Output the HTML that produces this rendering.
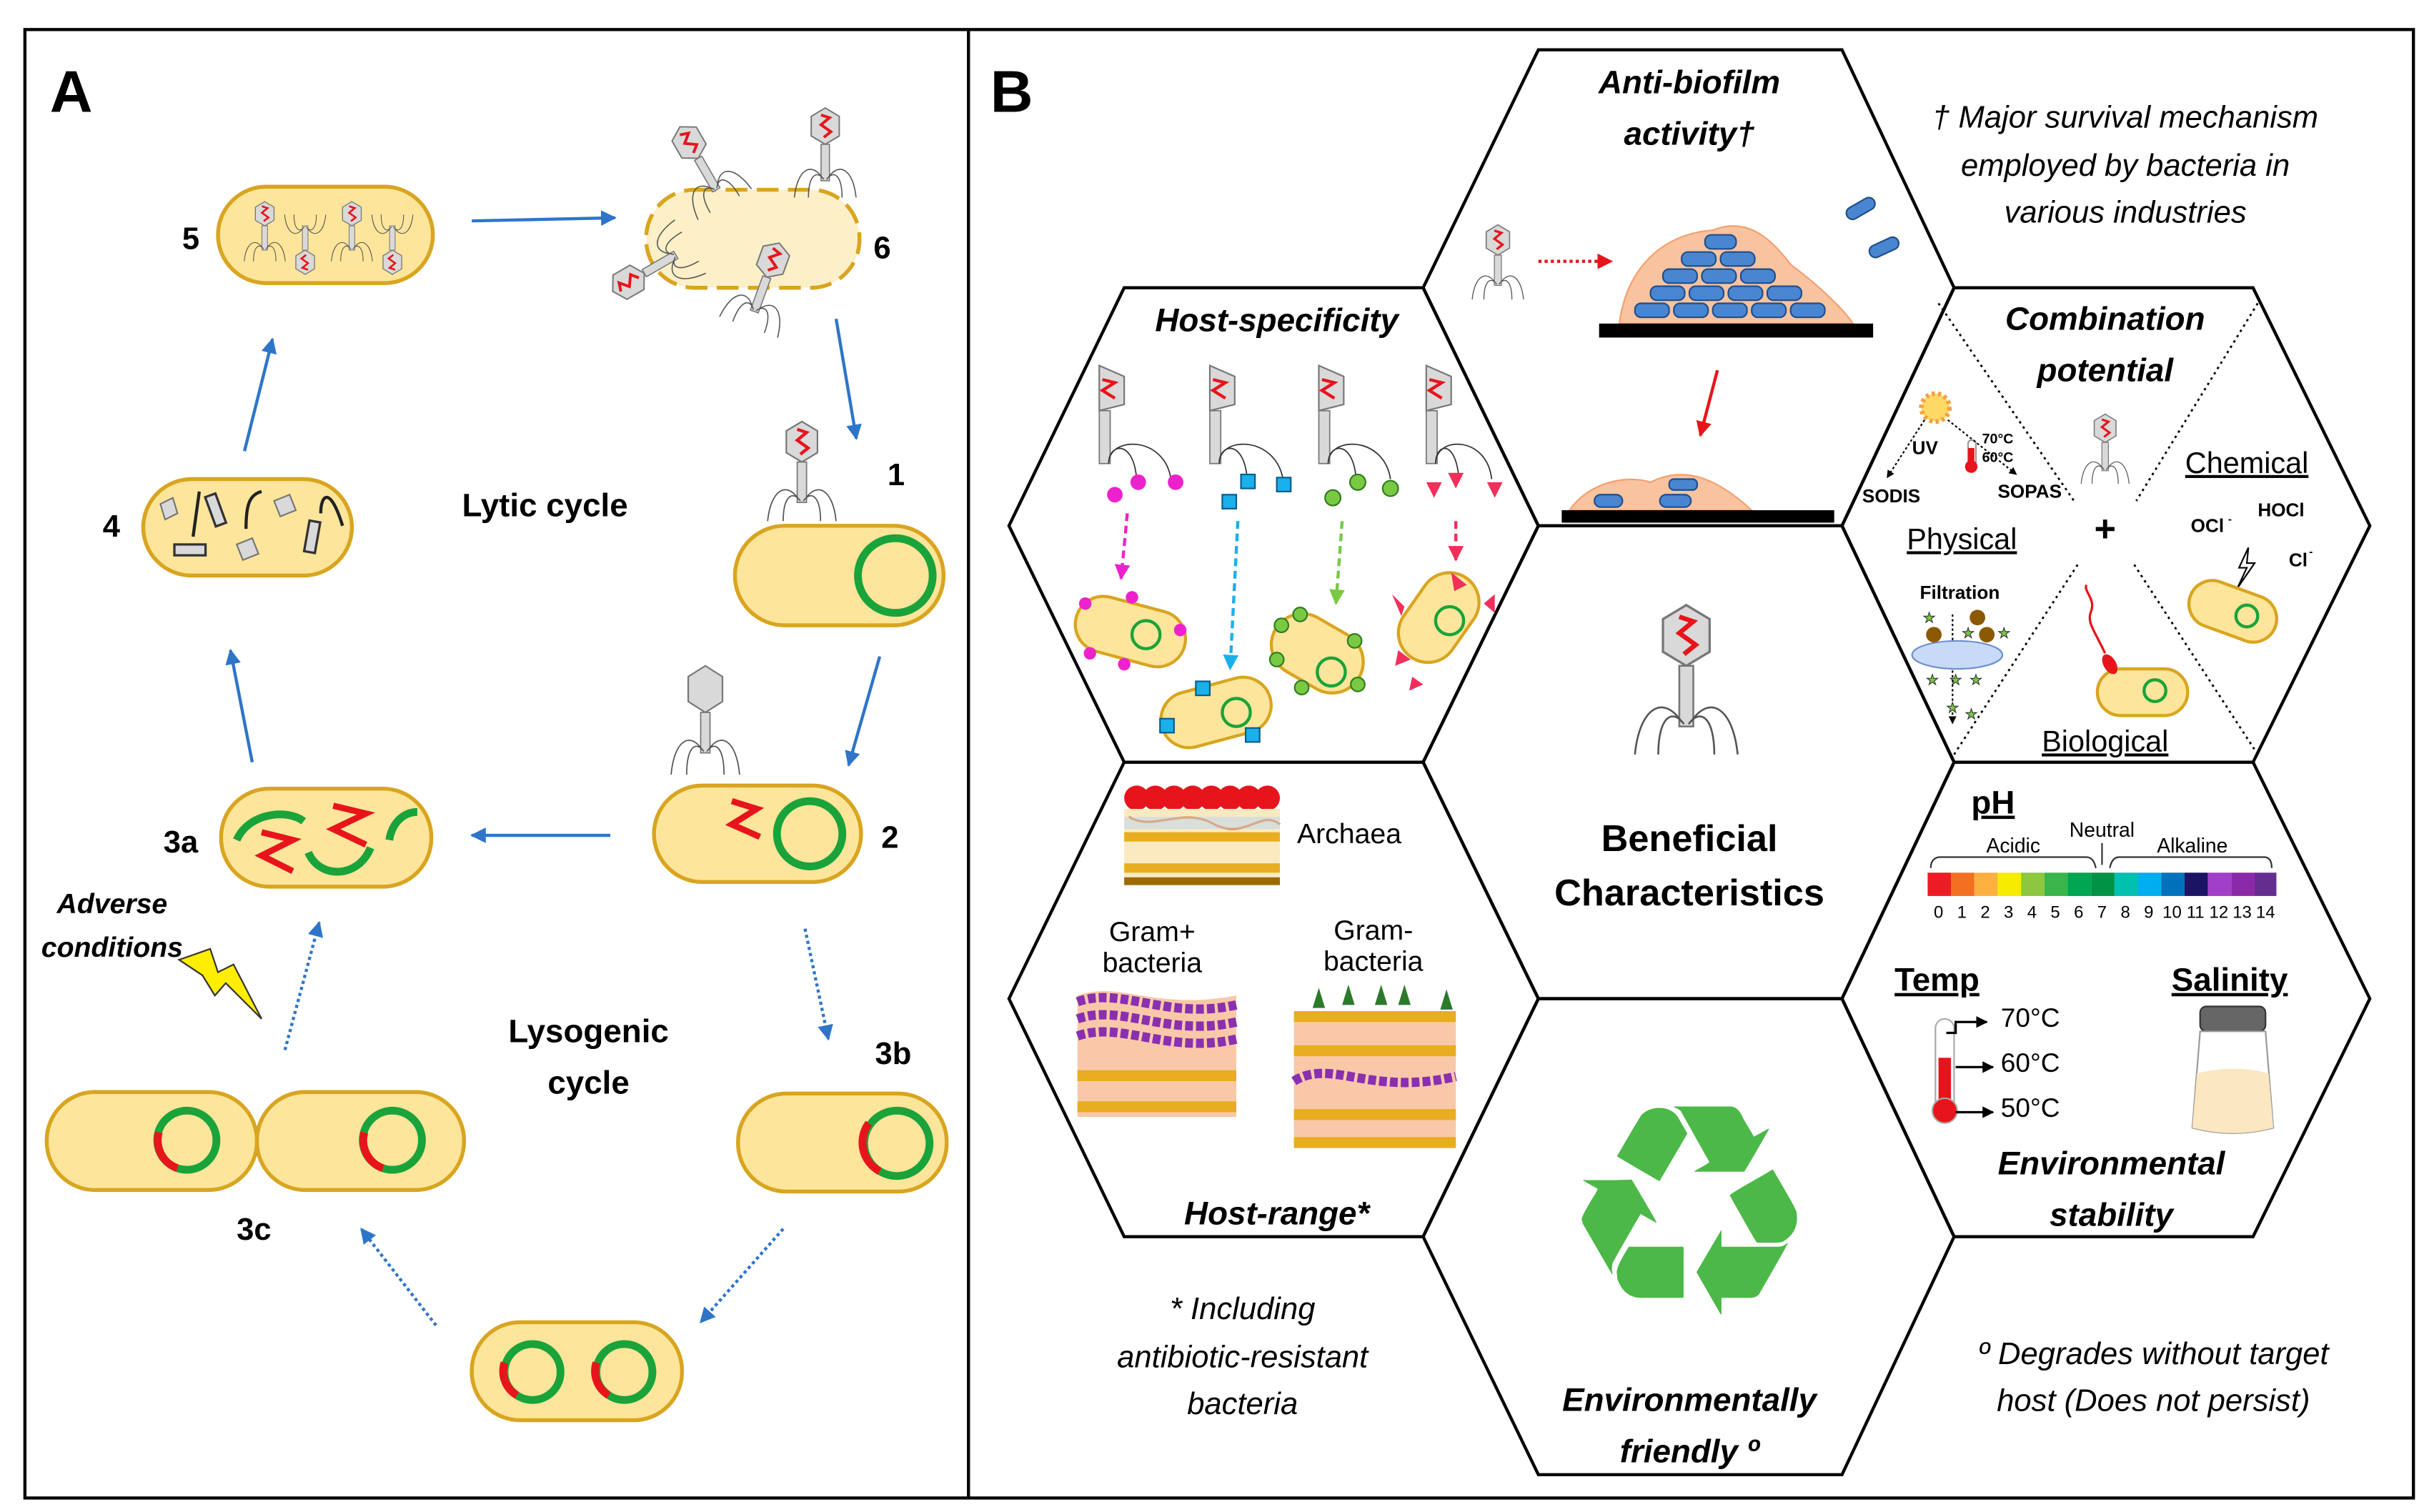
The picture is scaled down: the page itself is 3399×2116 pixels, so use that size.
<!DOCTYPE html>
<html><head><meta charset="utf-8"><style>
html,body{margin:0;padding:0;background:#fff}
svg{display:block}
text{font-family:"Liberation Sans",sans-serif}
.b{font-weight:bold}
.bi{font-weight:bold;font-style:italic}
.i{font-style:italic}
</style></head><body>
<svg width="3399" height="2116" viewBox="0 0 1560 972" preserveAspectRatio="none" xmlns="http://www.w3.org/2000/svg" xmlns:xlink="http://www.w3.org/1999/xlink">
<defs>
<marker id="ab" viewBox="0 0 10 10" refX="9" refY="5" markerWidth="5" markerHeight="5" orient="auto"><path d="M0,0L10,5L0,10z" fill="#2e75c8"/></marker>
<marker id="ar" viewBox="0 0 10 10" refX="9" refY="5" markerWidth="5" markerHeight="5" orient="auto"><path d="M0,0L10,5L0,10z" fill="#e8141b"/></marker>
<marker id="am" viewBox="0 0 10 10" refX="9" refY="5" markerWidth="5" markerHeight="5" orient="auto"><path d="M0,0L10,5L0,10z" fill="#ee22cc"/></marker>
<marker id="ac" viewBox="0 0 10 10" refX="9" refY="5" markerWidth="5" markerHeight="5" orient="auto"><path d="M0,0L10,5L0,10z" fill="#19b0ec"/></marker>
<marker id="ag" viewBox="0 0 10 10" refX="9" refY="5" markerWidth="5" markerHeight="5" orient="auto"><path d="M0,0L10,5L0,10z" fill="#7ac943"/></marker>
<marker id="ap" viewBox="0 0 10 10" refX="9" refY="5" markerWidth="5" markerHeight="5" orient="auto"><path d="M0,0L10,5L0,10z" fill="#f0305a"/></marker>
<marker id="ak" viewBox="0 0 10 10" refX="9" refY="5" markerWidth="5" markerHeight="5" orient="auto"><path d="M0,0L10,5L0,10z" fill="#000"/></marker>
<g id="ph">
<path d="M0,-34 L10,-28 L10,-14 L0,-8 L-10,-14 L-10,-28Z" fill="#d9d9d9" stroke="#777" stroke-width="1"/>
<path d="M-3,-29 L3,-27 L-3,-22 L4,-17 L-1,-13" fill="none" stroke="#e8141b" stroke-width="2"/>
<rect x="-3" y="-8" width="6" height="26" fill="#d9d9d9" stroke="#777" stroke-width="0.8"/>
<path d="M-2,16 C-10,4 -20,10 -22,30 M2,16 C10,4 20,10 22,30 M-1,17 C-6,10 -12,14 -12,30 M1,17 C6,10 12,14 12,30" fill="none" stroke="#555" stroke-width="0.8"/>
</g>
</defs>

<!-- frame -->
<rect x="16" y="19" width="1534" height="944" fill="#fff" stroke="#000" stroke-width="2"/>
<line x1="622" y1="19" x2="622" y2="963" stroke="#000" stroke-width="2"/>

<!-- PANEL A -->
<text x="32" y="72" class="b" font-size="38">A</text>
<g fill="#fde59b" stroke="#d9a520" stroke-width="2.5">
<rect x="140" y="120" width="138" height="62" rx="31"/>
<rect x="92" y="308" width="134" height="62" rx="31"/>
<rect x="472" y="338" width="134" height="64" rx="32"/>
<rect x="420" y="505" width="133" height="62" rx="31"/>
<rect x="142" y="507" width="135" height="63" rx="31"/>
<rect x="474" y="703" width="134" height="63" rx="31"/>
<rect x="303" y="850" width="135" height="63" rx="31"/>
<rect x="30" y="702" width="135" height="63" rx="31"/>
<rect x="165" y="702" width="133" height="63" rx="31"/>
</g>
<rect x="415" y="122" width="137" height="63" rx="31" fill="#fdf0c8" stroke="#d9a520" stroke-width="2.5" stroke-dasharray="14,6"/>
<!-- green rings -->
<g fill="none" stroke="#1aa33a" stroke-width="5">
<circle cx="575" cy="370" r="24"/>
<circle cx="520" cy="536" r="21"/>
<circle cx="576" cy="735" r="21"/>
<circle cx="342" cy="882" r="18"/>
<circle cx="401" cy="882" r="18"/>
<circle cx="120" cy="733" r="19"/>
<circle cx="252" cy="733" r="19"/>
</g>
<g fill="none" stroke="#e8141b" stroke-width="5">
<path d="M558,722 A21,21 0 0 0 565,753"/>
<path d="M324,876 A18,18 0 0 0 332,897"/>
<path d="M383,876 A18,18 0 0 0 391,897"/>
<path d="M102,728 A19,19 0 0 0 114,751"/>
<path d="M234,728 A19,19 0 0 0 246,751"/>
<path d="M470,515 L486,520 L470,530 L488,538" stroke-width="4"/>
<path d="M168,535 L188,540 L168,550 L188,560" stroke-width="4"/>
<path d="M214,518 L235,523 L214,533 L235,543" stroke-width="4"/>
</g>
<g fill="none" stroke="#1aa33a" stroke-width="5">
<path d="M152,540 C160,522 185,520 195,528"/>
<path d="M198,548 C205,565 230,565 238,545"/>
<path d="M250,540 C252,528 260,522 268,522"/>
</g>
<!-- cell 5 contents -->
<g transform="translate(170,150) scale(0.6)"><use xlink:href="#ph"/></g>
<g transform="translate(226,150) scale(0.6)"><use xlink:href="#ph"/></g>
<g transform="translate(196,156) scale(0.6) rotate(180)"><use xlink:href="#ph"/></g>
<g transform="translate(252,156) scale(0.6) rotate(180)"><use xlink:href="#ph"/></g>
<!-- cell 4 contents -->
<g fill="#d9d9d9" stroke="#333" stroke-width="1.5">
<rect x="135" y="318" width="7" height="20" transform="rotate(-20 138 328)"/>
<rect x="197" y="335" width="7" height="20" transform="rotate(10 200 345)"/>
<rect x="112" y="350" width="20" height="7"/>
</g>
<path d="M124,345 L128,316 M158,340 C158,325 160,318 168,316 M206,330 C206,318 212,312 220,338" stroke="#222" stroke-width="2" fill="none"/>
<path d="M103,324 L111,320 L114,330 L106,334Z M176,322 L186,318 L190,328 L180,332Z M152,350 L162,346 L166,356 L156,360Z" fill="#d9d9d9" stroke="#777"/>
<!-- phages around 6 -->
<g transform="translate(530,100) scale(0.9)"><use xlink:href="#ph"/></g>
<g transform="translate(452,108) scale(0.9) rotate(-30)"><use xlink:href="#ph"/></g>
<g transform="translate(420,172) scale(0.9) rotate(-120)"><use xlink:href="#ph"/></g>
<g transform="translate(490,185) scale(0.9) rotate(20)"><use xlink:href="#ph"/></g>
<!-- phage at 1 and 2 -->
<g transform="translate(515,305)"><use xlink:href="#ph"/></g>
<g transform="translate(453,466)"><path d="M0,-38 L11,-31 L11,-15 L0,-8 L-11,-15 L-11,-31Z" fill="#d9d9d9" stroke="#777"/><rect x="-3" y="-8" width="6" height="26" fill="#d9d9d9" stroke="#777" stroke-width="0.8"/><path d="M-2,16 C-10,4 -20,10 -22,32 M2,16 C10,4 20,10 22,32 M-1,17 C-6,10 -12,14 -12,32 M1,17 C6,10 12,14 12,32" fill="none" stroke="#555" stroke-width="0.8"/></g>
<!-- labels -->
<g class="b" font-size="20">
<text x="117" y="160">5</text><text x="561" y="166">6</text><text x="570" y="312">1</text>
<text x="66" y="345">4</text><text x="566" y="545">2</text><text x="105" y="548">3a</text>
<text x="562" y="684">3b</text><text x="152" y="797">3c</text>
</g>
<text x="350" y="332" class="b" font-size="21" text-anchor="middle">Lytic cycle</text>
<text x="378" y="670" class="b" font-size="21" text-anchor="middle">Lysogenic</text>
<text x="378" y="703" class="b" font-size="21" text-anchor="middle">cycle</text>
<text x="72" y="587" class="bi" font-size="18" text-anchor="middle">Adverse</text>
<text x="72" y="615" class="bi" font-size="18" text-anchor="middle">conditions</text>
<path d="M115,617 L135,610 L140,625 L150,620 L168,655 L145,632 L138,640 L130,627Z" fill="#ffee00" stroke="#333" stroke-width="1"/>
<!-- blue arrows -->
<g stroke="#2e75c8" stroke-width="2" fill="none" marker-end="url(#ab)">
<line x1="303" y1="142" x2="395" y2="140"/>
<line x1="537" y1="205" x2="550" y2="282"/>
<line x1="565" y1="422" x2="545" y2="492"/>
<line x1="392" y1="537" x2="303" y2="537"/>
<line x1="162" y1="490" x2="148" y2="418"/>
<line x1="157" y1="290" x2="175" y2="218"/>
</g>
<g stroke="#2e75c8" stroke-width="2" fill="none" stroke-dasharray="2,2" marker-end="url(#ab)">
<line x1="517" y1="597" x2="532" y2="668"/>
<line x1="503" y1="790" x2="450" y2="850"/>
<line x1="280" y1="852" x2="232" y2="790"/>
<line x1="183" y1="675" x2="205" y2="593"/>
</g>

<!-- PANEL B -->
<text x="636" y="72" class="b" font-size="38">B</text>
<g fill="none" stroke="#000" stroke-width="2">
<path d="M988,32 L1183,32 L1255,185 L1183,338 L988,338 L914,185Z"/>
<path d="M988,338 L1183,338 L1255,490 L1183,642 L988,642 L914,490Z"/>
<path d="M988,642 L1183,642 L1255,795 L1183,948 L988,948 L914,795Z"/>
<path d="M722,185 L914,185 L988,338 L914,490 L722,490 L648,338Z"/>
<path d="M722,490 L914,490 L988,642 L914,795 L722,795 L648,642Z"/>
<path d="M1255,185 L1447,185 L1522,338 L1447,490 L1255,490 L1183,338Z"/>
<path d="M1255,490 L1447,490 L1522,642 L1447,795 L1255,795 L1183,642Z"/>
</g>
<!-- footnotes -->
<g class="i" font-size="20" text-anchor="middle">
<text x="1365" y="82">† Major survival mechanism</text>
<text x="1365" y="113">employed by bacteria in</text>
<text x="1365" y="143">various industries</text>
<text x="798" y="848">* Including</text>
<text x="798" y="879">antibiotic-resistant</text>
<text x="798" y="909">bacteria</text>
<text x="1383" y="877">º Degrades without target</text>
<text x="1383" y="907">host (Does not persist)</text>
</g>
<!-- titles -->
<g class="bi" font-size="21" text-anchor="middle">
<text x="1085" y="60">Anti-biofilm</text>
<text x="1085" y="93">activity†</text>
<text x="820" y="213">Host-specificity</text>
<text x="1352" y="212">Combination</text>
<text x="1352" y="245">potential</text>
<text x="820" y="787">Host-range*</text>
<text x="1085" y="907">Environmentally</text>
<text x="1085" y="940">friendly º</text>
<text x="1356" y="755">Environmental</text>
<text x="1356" y="788">stability</text>
</g>
<text x="1085" y="547" class="b" font-size="24" text-anchor="middle">Beneficial</text>
<text x="1085" y="582" class="b" font-size="24" text-anchor="middle">Characteristics</text>
<!-- central phage -->
<g transform="translate(1083,440) scale(1.5)"><use xlink:href="#ph"/></g>
<!-- biofilm -->
<path d="M1040,208 C1045,170 1070,150 1100,148 C1120,140 1135,150 1150,170 C1170,185 1185,200 1190,208Z" fill="#f9c3a0" stroke="#f4a070"/>
<g fill="#4a86d0" stroke="#1f4e8c" stroke-width="1">
<rect x="1050" y="195" width="22" height="9" rx="4"/><rect x="1075" y="195" width="22" height="9" rx="4"/><rect x="1100" y="195" width="22" height="9" rx="4"/><rect x="1125" y="195" width="22" height="9" rx="4"/><rect x="1150" y="195" width="22" height="9" rx="4"/>
<rect x="1060" y="184" width="22" height="9" rx="4"/><rect x="1085" y="184" width="22" height="9" rx="4"/><rect x="1110" y="184" width="22" height="9" rx="4"/><rect x="1135" y="184" width="22" height="9" rx="4"/>
<rect x="1068" y="173" width="22" height="9" rx="4"/><rect x="1093" y="173" width="22" height="9" rx="4"/><rect x="1118" y="173" width="22" height="9" rx="4"/>
<rect x="1080" y="162" width="22" height="9" rx="4"/><rect x="1105" y="162" width="22" height="9" rx="4"/>
<rect x="1095" y="151" width="20" height="9" rx="4"/>
<rect x="1185" y="130" width="20" height="8" rx="4" transform="rotate(-30 1195 134)"/>
<rect x="1200" y="155" width="20" height="8" rx="4" transform="rotate(-25 1210 159)"/>
<rect x="1060" y="318" width="18" height="8" rx="4"/><rect x="1080" y="316" width="20" height="8" rx="4"/><rect x="1070" y="310" width="18" height="7" rx="3"/>
</g>
<rect x="1027" y="208" width="176" height="9" fill="#000"/>
<path d="M1008,328 C1020,310 1045,305 1060,310 C1080,300 1100,305 1125,328Z" fill="#f9c3a0" stroke="#f4a070"/>
<g fill="#4a86d0" stroke="#1f4e8c" stroke-width="1"><rect x="1024" y="318" width="18" height="8" rx="4"/><rect x="1066" y="318" width="20" height="8" rx="4"/><rect x="1072" y="308" width="18" height="7" rx="3"/></g>
<rect x="1003" y="328" width="175" height="8" fill="#000"/>
<line x1="1103" y1="238" x2="1092" y2="280" stroke="#e8141b" stroke-width="2" marker-end="url(#ar)"/>
<line x1="988" y1="168" x2="1035" y2="168" stroke="#e8141b" stroke-width="2" stroke-dasharray="2,2" marker-end="url(#ar)"/>
<g transform="translate(962,170) scale(0.75)"><use xlink:href="#ph"/></g>
<!-- host specificity -->
<g transform="translate(712,270)"><path d="M-6,-35 L10,-28 L10,-10 L-6,-6Z" fill="#d9d9d9" stroke="#777"/><path d="M-4,-26 L4,-24 L-4,-19 L4,-14" stroke="#e8141b" stroke-width="2" fill="none"/><rect x="-6" y="-6" width="7" height="34" fill="#d9d9d9" stroke="#777" stroke-width="0.8"/></g>
<g transform="translate(783,270)"><path d="M-6,-35 L10,-28 L10,-10 L-6,-6Z" fill="#d9d9d9" stroke="#777"/><path d="M-4,-26 L4,-24 L-4,-19 L4,-14" stroke="#e8141b" stroke-width="2" fill="none"/><rect x="-6" y="-6" width="7" height="34" fill="#d9d9d9" stroke="#777" stroke-width="0.8"/></g>
<g transform="translate(853,270)"><path d="M-6,-35 L10,-28 L10,-10 L-6,-6Z" fill="#d9d9d9" stroke="#777"/><path d="M-4,-26 L4,-24 L-4,-19 L4,-14" stroke="#e8141b" stroke-width="2" fill="none"/><rect x="-6" y="-6" width="7" height="34" fill="#d9d9d9" stroke="#777" stroke-width="0.8"/></g>
<g transform="translate(922,270)"><path d="M-6,-35 L10,-28 L10,-10 L-6,-6Z" fill="#d9d9d9" stroke="#777"/><path d="M-4,-26 L4,-24 L-4,-19 L4,-14" stroke="#e8141b" stroke-width="2" fill="none"/><rect x="-6" y="-6" width="7" height="34" fill="#d9d9d9" stroke="#777" stroke-width="0.8"/></g>
<g fill="none" stroke="#333" stroke-width="0.8">
<path d="M712,298 C712,285 728,282 730,308 M712,298 C712,280 748,280 752,308"/>
<path d="M783,298 C783,285 799,282 801,308 M783,298 C783,280 819,280 824,308"/>
<path d="M853,298 C853,285 869,282 871,308 M853,298 C853,280 889,280 893,308"/>
<path d="M922,298 C922,285 935,282 937,308 M922,298 C922,280 955,280 958,308"/>
</g>
<g fill="#ee22cc"><circle cx="716" cy="318" r="5"/><circle cx="731" cy="310" r="5"/><circle cx="755" cy="310" r="5"/></g>
<g fill="#19b0ec" stroke="#0a5c8c"><rect x="785" y="318" width="9" height="9"/><rect x="797" y="305" width="9" height="9"/><rect x="820" y="307" width="9" height="9"/></g>
<g fill="#7ac943" stroke="#2e7d1e"><circle cx="856" cy="320" r="5"/><circle cx="872" cy="310" r="5"/><circle cx="893" cy="314" r="5"/></g>
<g fill="#f0305a"><path d="M916,310 L926,310 L921,320Z M930,304 L940,304 L935,314Z M955,310 L965,310 L960,320Z"/></g>
<line x1="724" y1="330" x2="720" y2="372" stroke="#ee22cc" stroke-width="2" stroke-dasharray="5,3" marker-end="url(#am)"/>
<line x1="795" y1="335" x2="790" y2="430" stroke="#19b0ec" stroke-width="2" stroke-dasharray="5,3" marker-end="url(#ac)"/>
<line x1="862" y1="335" x2="858" y2="388" stroke="#7ac943" stroke-width="2" stroke-dasharray="5,3" marker-end="url(#ag)"/>
<line x1="935" y1="335" x2="935" y2="360" stroke="#f0305a" stroke-width="2" stroke-dasharray="5,3" marker-end="url(#ap)"/>
<g fill="#fde59b" stroke="#d9a520" stroke-width="2">
<rect x="690" y="388" width="72" height="36" rx="18" transform="rotate(15 726 406)"/>
<rect x="745" y="440" width="72" height="36" rx="18" transform="rotate(-15 781 458)"/>
<rect x="815" y="400" width="62" height="40" rx="20" transform="rotate(30 846 420)"/>
<rect x="893" y="378" width="62" height="38" rx="19" transform="rotate(-55 924 397)"/>
</g>
<g fill="none" stroke="#1aa33a" stroke-width="2"><circle cx="736" cy="408" r="9"/><circle cx="794" cy="458" r="9"/><circle cx="855" cy="432" r="9"/><circle cx="931" cy="399" r="9"/></g>
<g fill="#ee22cc"><circle cx="697" cy="388" r="4"/><circle cx="727" cy="384" r="4"/><circle cx="758" cy="405" r="4"/><circle cx="700" cy="420" r="4"/><circle cx="722" cy="427" r="4"/></g>
<g fill="#19b0ec" stroke="#0a5c8c"><rect x="745" y="462" width="9" height="9"/><rect x="768" y="438" width="9" height="9"/><rect x="800" y="468" width="9" height="9"/></g>
<g fill="#7ac943" stroke="#2e7d1e"><circle cx="823" cy="402" r="4.5"/><circle cx="835" cy="395" r="4.5"/><circle cx="820" cy="424" r="4.5"/><circle cx="870" cy="412" r="4.5"/><circle cx="872" cy="440" r="4.5"/><circle cx="836" cy="442" r="4.5"/></g>
<g fill="#f0305a"><path d="M932,368 L942,376 L934,380Z M898,418 L906,424 L896,428Z M907,435 L914,440 L905,444Z M953,388 L960,382 L960,394Z M902,390 L894,382 L900,396Z"/></g>
<!-- combination -->
<g stroke="#000" stroke-width="1.3" stroke-dasharray="1.5,2.5" fill="none">
<line x1="1245" y1="195" x2="1332" y2="322"/>
<line x1="1450" y1="195" x2="1372" y2="322"/>
<line x1="1255" y1="485" x2="1335" y2="362"/>
<line x1="1450" y1="485" x2="1370" y2="362"/>
</g>
<text x="1352" y="348" class="b" font-size="24" text-anchor="middle">+</text>
<g transform="translate(1352,290) scale(0.7)"><use xlink:href="#ph"/></g>
<circle cx="1243" cy="262" r="9" fill="#ffd966" stroke="#f4a040" stroke-width="3" stroke-dasharray="2,2"/>
<rect x="1264" y="283" width="5" height="20" rx="2" fill="#fff" stroke="#999"/><circle cx="1266" cy="300" r="4" fill="#e8141b"/><rect x="1264" y="288" width="4" height="12" fill="#e8141b"/>
<g font-size="9" class="b"><text x="1273" y="285">70°C</text><text x="1273" y="297">60°C</text></g>
<g stroke="#000" stroke-width="1" stroke-dasharray="1.5,1.5"><line x1="1236" y1="270" x2="1212" y2="307" marker-end="url(#ak)"/><line x1="1251" y1="270" x2="1295" y2="305" marker-end="url(#ak)"/><line x1="1254" y1="395" x2="1254" y2="420" marker-end="url(#ak)"/><line x1="1254" y1="425" x2="1254" y2="465" marker-end="url(#ak)"/></g>
<g class="b" font-size="12"><text x="1228" y="292">UV</text><text x="1196" y="323">SODIS</text><text x="1283" y="320">SOPAS</text><text x="1233" y="385">Filtration</text><text x="1407" y="342">OCl</text><text x="1450" y="332">HOCl</text><text x="1470" y="364">Cl</text></g>
<g font-size="7" class="b"><text x="1431" y="336">-</text><text x="1483" y="357">-</text></g>
<g font-size="19" text-decoration="underline"><text x="1443" y="304" text-anchor="middle">Chemical</text><text x="1260" y="353" text-anchor="middle">Physical</text><text x="1352" y="483" text-anchor="middle">Biological</text></g>
<ellipse cx="1257" cy="421" rx="29" ry="9" fill="#c9daf8" stroke="#6d8fcf"/>
<g fill="#8b5a00"><circle cx="1270" cy="397" r="5"/><circle cx="1242" cy="408" r="5"/><circle cx="1276" cy="408" r="5"/></g>
<g fill="#7ac943" stroke="#333" stroke-width="0.5" font-size="9"><text x="1235" y="400">★</text><text x="1260" y="410">★</text><text x="1283" y="410">★</text><text x="1237" y="440">★</text><text x="1252" y="440">★</text><text x="1265" y="440">★</text><text x="1250" y="458">★</text><text x="1262" y="462">★</text></g>
<path d="M1444,352 L1438,365 L1443,365 L1437,378 L1448,362 L1443,362Z" fill="#fff" stroke="#000"/>
<rect x="1405" y="378" width="58" height="30" rx="15" fill="#fde59b" stroke="#d9a520" stroke-width="2" transform="rotate(20 1434 393)"/>
<circle cx="1443" cy="396" r="7" fill="none" stroke="#1aa33a" stroke-width="2"/>
<rect x="1347" y="430" width="58" height="30" rx="15" fill="#fde59b" stroke="#d9a520" stroke-width="2"/>
<circle cx="1384" cy="444" r="7" fill="none" stroke="#1aa33a" stroke-width="2"/>
<ellipse cx="1355" cy="427" rx="4" ry="7" fill="#e8141b" transform="rotate(-30 1355 427)"/>
<path d="M1352,420 C1345,405 1340,400 1343,393 C1346,385 1338,380 1340,376" fill="none" stroke="#e8141b" stroke-width="1.5"/>
<!-- host range -->
<g fill="#e8141b"><circle cx="730" cy="513" r="8"/><circle cx="742" cy="513" r="8"/><circle cx="754" cy="513" r="8"/><circle cx="766" cy="513" r="8"/><circle cx="778" cy="513" r="8"/><circle cx="790" cy="513" r="8"/><circle cx="802" cy="513" r="8"/><circle cx="814" cy="513" r="8"/></g>
<rect x="722" y="520" width="100" height="48" fill="#fbeac0"/>
<path d="M725,525 C740,535 760,518 780,530 C800,540 810,520 822,530" stroke="#f08030" fill="none" stroke-width="1.5"/>
<rect x="722" y="525" width="100" height="8" fill="#b8d4f0" opacity="0.5"/>
<g fill="#e8ad20"><rect x="722" y="535" width="100" height="6"/><rect x="722" y="555" width="100" height="6"/><rect x="722" y="564" width="100" height="5" fill="#9a6a00"/></g>
<text x="833" y="542" font-size="18">Archaea</text>
<g font-size="18" text-anchor="middle"><text x="740" y="605">Gram+</text><text x="740" y="625">bacteria</text><text x="882" y="604">Gram-</text><text x="882" y="624">bacteria</text></g>
<path d="M692,640 C720,630 740,650 794,640 L794,718 L692,718Z" fill="#f9c8a8"/>
<g fill="none" stroke="#8a2fb0" stroke-width="6" stroke-dasharray="5,2"><path d="M692,644 C720,634 750,656 794,646"/><path d="M692,655 C720,645 750,667 794,657"/><path d="M692,666 C720,656 750,678 794,668"/></g>
<g fill="#e8ad20"><rect x="692" y="688" width="102" height="7"/><rect x="692" y="708" width="102" height="7"/></g>
<g fill="#2a7a2a"><path d="M847,635 L851,648 L843,648Z M866,633 L870,646 L862,646Z M887,633 L891,646 L883,646Z M902,633 L906,646 L898,646Z M929,636 L933,649 L925,649Z"/></g>
<rect x="831" y="650" width="104" height="87" fill="#f9c8a8"/>
<g fill="#e8ad20"><rect x="831" y="650" width="104" height="7"/><rect x="831" y="672" width="104" height="7"/><rect x="831" y="713" width="104" height="7"/><rect x="831" y="731" width="104" height="7"/></g>
<path d="M831,695 C855,680 880,705 935,692" stroke="#8a2fb0" stroke-width="6" stroke-dasharray="5,2" fill="none"/>
<!-- recycle -->
<text x="1085" y="845" font-size="190" fill="#4cb848" text-anchor="middle" style='font-family:"DejaVu Sans",sans-serif'>♻</text>
<!-- environmental stability -->
<text x="1266" y="523" class="b" font-size="21" text-decoration="underline">pH</text>
<g font-size="13" text-anchor="middle"><text x="1350" y="538">Neutral</text><text x="1293" y="548">Acidic</text><text x="1408" y="548">Alkaline</text></g>
<path d="M1240,558 C1240,552 1244,551 1246,551 L1340,551 C1343,551 1345,553 1346,558 M1355,558 C1356,553 1358,551 1361,551 L1454,551 C1457,551 1459,553 1459,558 M1350,542 L1350,556" fill="none" stroke="#333" stroke-width="1"/>
<g>
<rect x="1238" y="561" width="15" height="15" fill="#ed1c24"/><rect x="1253" y="561" width="15" height="15" fill="#f36f21"/><rect x="1268" y="561" width="15" height="15" fill="#fbb040"/><rect x="1283" y="561" width="15" height="15" fill="#f5ec00"/><rect x="1298" y="561" width="15" height="15" fill="#8dc63f"/><rect x="1313" y="561" width="15" height="15" fill="#39b54a"/><rect x="1328" y="561" width="15" height="15" fill="#00a651"/><rect x="1343" y="561" width="15" height="15" fill="#009245"/><rect x="1358" y="561" width="15" height="15" fill="#00c0b0"/><rect x="1373" y="561" width="15" height="15" fill="#00aeef"/><rect x="1388" y="561" width="15" height="15" fill="#0072bc"/><rect x="1403" y="561" width="15" height="15" fill="#1b1464"/><rect x="1418" y="561" width="15" height="15" fill="#a23fc8"/><rect x="1433" y="561" width="15" height="15" fill="#8a2aa8"/><rect x="1448" y="561" width="14" height="15" fill="#662d91"/>
</g>
<g font-size="11" text-anchor="middle"><text x="1245" y="590">0</text><text x="1260" y="590">1</text><text x="1275" y="590">2</text><text x="1290" y="590">3</text><text x="1305" y="590">4</text><text x="1320" y="590">5</text><text x="1335" y="590">6</text><text x="1350" y="590">7</text><text x="1365" y="590">8</text><text x="1380" y="590">9</text><text x="1395" y="590">10</text><text x="1410" y="590">11</text><text x="1425" y="590">12</text><text x="1440" y="590">13</text><text x="1455" y="590">14</text></g>
<g class="b" font-size="21" text-decoration="underline"><text x="1244" y="637" text-anchor="middle">Temp</text><text x="1432" y="637" text-anchor="middle">Salinity</text></g>
<rect x="1243" y="655" width="12" height="66" rx="6" fill="#fff" stroke="#aaa"/>
<rect x="1245" y="680" width="8" height="36" fill="#e8141b"/><circle cx="1249" cy="714" r="8" fill="#e8141b" stroke="#aaa"/>
<g stroke="#000" stroke-width="1.5" marker-end="url(#ak)"><path d="M1250,664 L1256,664 L1256,657 L1276,657" fill="none"/><line x1="1256" y1="686" x2="1280" y2="686"/><line x1="1256" y1="715" x2="1280" y2="715"/></g>
<g font-size="17"><text x="1285" y="660">70°C</text><text x="1285" y="689">60°C</text><text x="1285" y="718">50°C</text></g>
<rect x="1413" y="647" width="42" height="16" rx="4" fill="#666" stroke="#333"/>
<path d="M1413,663 L1455,663 L1460,725 Q1434,732 1408,725Z" fill="#fff" stroke="#999"/>
<path d="M1411,690 Q1434,684 1457,690 L1460,725 Q1434,732 1408,725Z" fill="#fbe7c0"/>
</svg>
</body></html>
